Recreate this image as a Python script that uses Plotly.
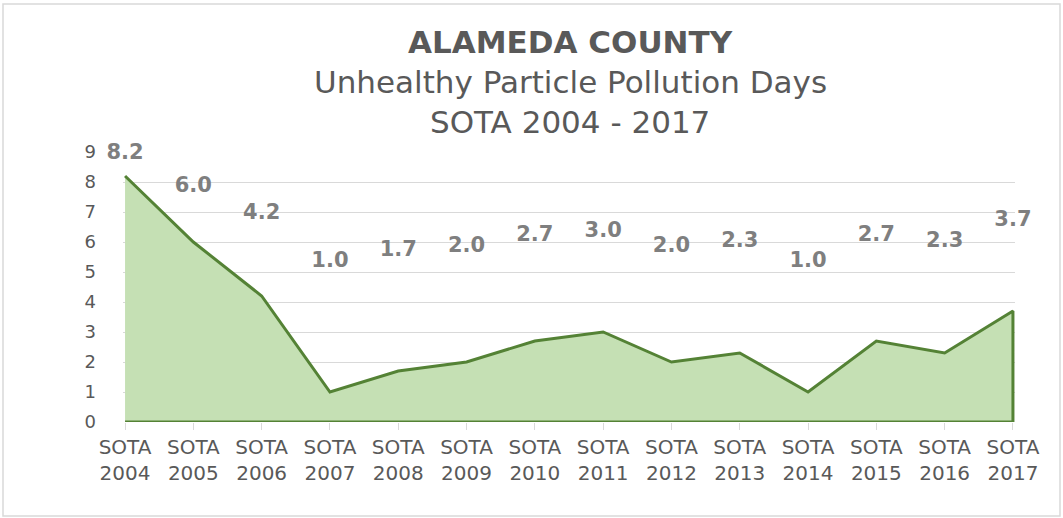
import plotly.graph_objects as go

# data
years = ["2004", "2005", "2006", "2007", "2008", "2009", "2010",
         "2011", "2012", "2013", "2014", "2015", "2016", "2017"]
days = [8.2, 6.0, 4.2, 1.0, 1.7, 2.0, 2.7, 3.0, 2.0, 2.3, 1.0, 2.7, 2.3, 3.7]
tick_labels = ["SOTA<br>" + y for y in years]

W, H = 1063, 518
ML, MR, MT, MB = 123, 48, 152, 96
plot_h = H - MT - MB
plot_w = W - ML - MR


def py(px):
    # pixel row -> paper y
    return (H - MB - px) / plot_h


def px_x(px):
    return (px - ML) / plot_w


idx = list(range(len(years)))

fig = go.Figure()

# area outline as a closed polygon (Excel-style border all round)
fig.add_trace(go.Scatter(
    x=idx + [idx[-1], idx[0]],
    y=days + [0, 0],
    fill="toself",
    fillcolor="#C5E0B4",
    mode="lines",
    line=dict(color="#548235", width=3),
    hoverinfo="skip",
    showlegend=False,
))

# data labels, Excel places them around the middle-upper area
fig.add_trace(go.Scatter(
    x=idx,
    y=[4.85 + v / 2 for v in days],
    mode="text",
    text=[f"{v:.1f}" for v in days],
    textfont=dict(family="DejaVu Sans", size=21, color="#7F7F7F", weight="bold"),
    cliponaxis=False,
    hoverinfo="skip",
    showlegend=False,
))

fig.update_xaxes(
    range=[-0.03, 13.03],
    tickmode="array", tickvals=idx, ticktext=tick_labels,
    ticks="outside", ticklen=7, tickcolor="#D9D9D9", tickwidth=1,
    showgrid=False, zeroline=False, showline=False,
    tickfont=dict(family="DejaVu Sans", size=20, color="#595959"),
)
fig.update_yaxes(
    range=[0, 9], dtick=1,
    showgrid=True, gridcolor="#D9D9D9", gridwidth=1,
    zeroline=False, showline=False,
    tickfont=dict(family="DejaVu Sans", size=18, color="#595959"),
    ticklabelstandoff=26,
)

title_font = "DejaVu Sans"
titles = [("<b>ALAMEDA COUNTY</b>", 42), ("Unhealthy Particle Pollution Days", 82),
          ("SOTA 2004 - 2017", 122)]
for txt, ypx in titles:
    fig.add_annotation(text=txt, xref="paper", yref="paper",
                       x=px_x(570), y=py(ypx), xanchor="center", yanchor="middle",
                       showarrow=False,
                       font=dict(family=title_font, size=31, color="#595959"))

# chart frame
fig.add_shape(type="rect", xref="paper", yref="paper",
              x0=px_x(3), x1=px_x(1060), y0=py(516), y1=py(4),
              line=dict(color="#D9D9D9", width=1.5), layer="below")

fig.update_layout(
    width=W, height=H,
    margin=dict(l=ML, r=MR, t=MT, b=MB),
    paper_bgcolor="white", plot_bgcolor="white",
    showlegend=False,
)

fig.write_html("out.html", config={"displayModeBar": False},
               post_script="document.body.style.margin='0px';document.body.style.overflow='hidden';")
